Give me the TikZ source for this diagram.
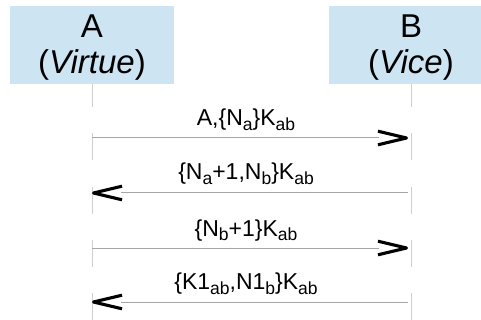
\documentclass[tikz,border=0pt]{standalone}
\usepackage{fontspec}
\setmainfont{Liberation Sans}
\usetikzlibrary{calc}
\definecolor{boxblue}{HTML}{CDE4F3}
\definecolor{lifegrey}{HTML}{CFCFCF}
\definecolor{msggrey}{HTML}{A6A6A6}
\newcommand{\sbs}[1]{\raisebox{-5pt}{\fontsize{17.5}{17.5}\selectfont #1}}
\begin{document}
\begin{tikzpicture}[x=1pt,y=-1pt,
  party/.style={fill=boxblue, minimum width=164pt, minimum height=78pt, align=center,
    font=\fontsize{33}{36}\selectfont, inner sep=0pt},
  lifeline/.style={draw=lifegrey, line width=1pt, dash pattern=on 26.7pt off 26.6pt, dash phase=4pt},
  msg/.style={draw=msggrey, line width=1pt},
  chev/.style={draw=black, line width=3.1pt, line join=round},
  lbl/.style={font=\fontsize{23}{27}\selectfont, anchor=base, inner sep=0pt}]
\useasboundingbox (0,0) rectangle (481,320);
\begin{scope}
  \clip (0,0) rectangle (481,320);
  \node[party] (A) at (92,45) {\rule{0pt}{27.6pt}A\\(\textit{Virtue})};
  \node[party] (B) at (411,45) {\rule{0pt}{27.6pt}B\\(\textit{Vice})};
\end{scope}
\coordinate (Aend) at (92,320);
\coordinate (Bend) at (411,320);
\draw[lifeline] (A.south) -- (Aend);
\draw[lifeline] (B.south) -- (Bend);
% message end points
\coordinate (a1) at (92,138);  \coordinate (b1) at (408,138);
\coordinate (a2) at (92,193);  \coordinate (b2) at (408,193);
\coordinate (a3) at (92,248);  \coordinate (b3) at (408,248);
\coordinate (a4) at (92,302);  \coordinate (b4) at (408,302);
% message 1 (A -> B)
\draw[msg] (a1) -- ($(b1)+(-29,0)$);
\draw[chev] ($(b1)+(-30,-6.8)$) -- ($(b1)+(-1.5,0)$) -- ($(b1)+(-30,6.8)$);
\node[lbl] (m1) at (246,126) {A,\{N\sbs{a}\}K\sbs{ab}};
% message 2 (B -> A)
\draw[msg] (b2) -- ($(a2)+(29,0)$);
\draw[chev] ($(a2)+(30,-6.8)$) -- ($(a2)+(1.5,0)$) -- ($(a2)+(30,6.8)$);
\node[lbl] (m2) at (246,180) {\{N\sbs{a}+1,N\sbs{b}\}K\sbs{ab}};
% message 3 (A -> B)
\draw[msg] (a3) -- ($(b3)+(-29,0)$);
\draw[chev] ($(b3)+(-30,-6.8)$) -- ($(b3)+(-1.5,0)$) -- ($(b3)+(-30,6.8)$);
\node[lbl] (m3) at (246,236) {\{N\sbs{b}+1\}K\sbs{ab}};
% message 4 (B -> A)
\draw[msg] (b4) -- ($(a4)+(29,0)$);
\draw[chev] ($(a4)+(30,-6.8)$) -- ($(a4)+(1.5,0)$) -- ($(a4)+(30,6.8)$);
\node[lbl] (m4) at (246,289) {\{K1\sbs{ab},N1\sbs{b}\}K\sbs{ab}};
\end{tikzpicture}
\end{document}
